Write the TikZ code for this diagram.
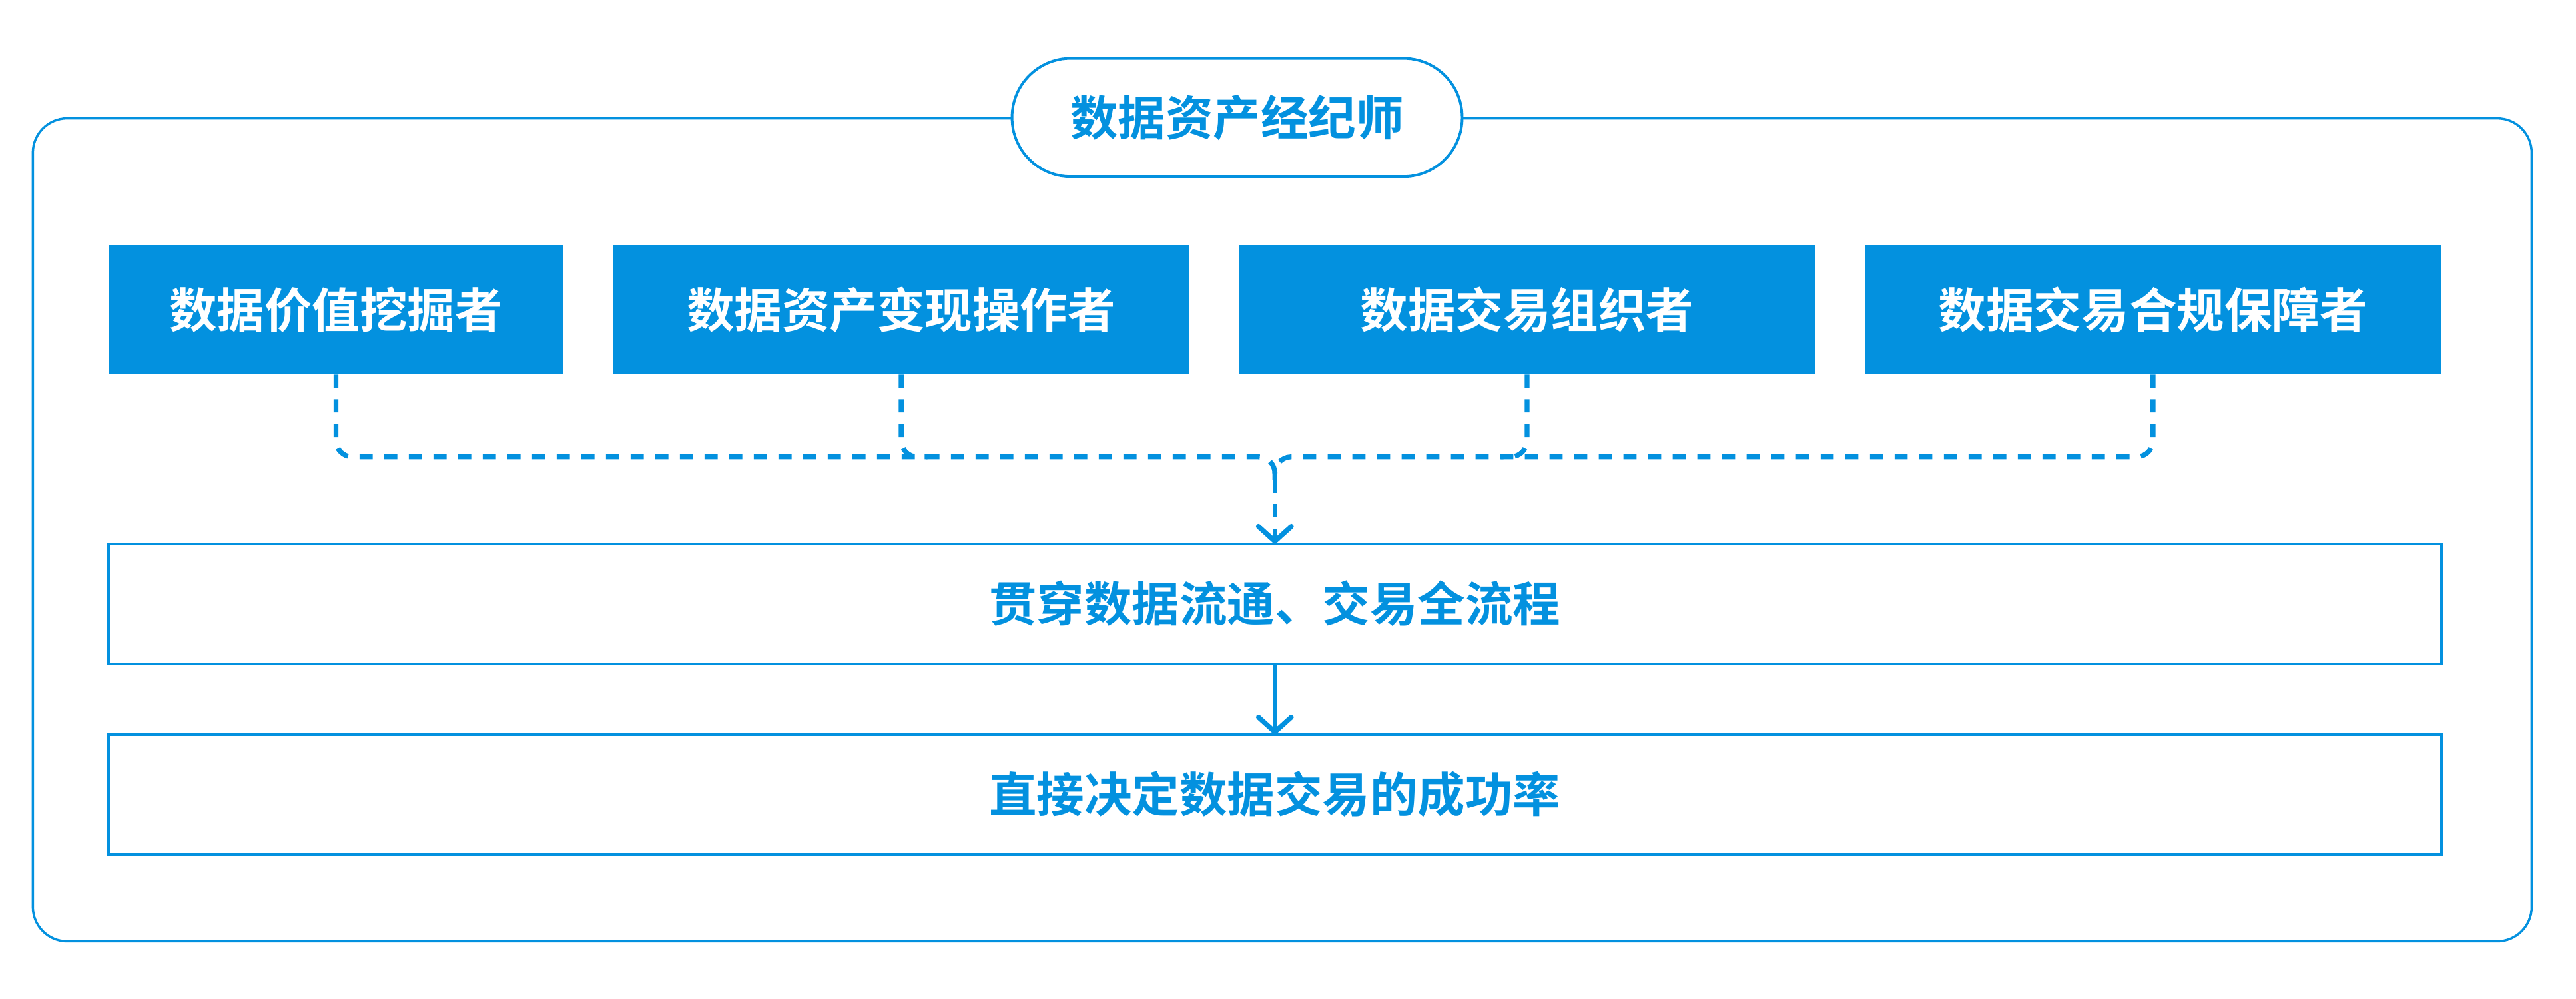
\documentclass[tikz,border=0pt]{standalone}
\usepackage{fontspec}
\newfontfamily\cjk{Noto Sans CJK SC}[BoldFont=* Bold]
\usetikzlibrary{arrows.meta}
\definecolor{brandblue}{RGB}{3,145,223}
\tikzset{
	lbl/.style={font=\cjk\bfseries\fontsize{14.5pt}{17pt}\selectfont},
	rolebox/.style={lbl,fill=brandblue,text=white,inner sep=0,outer sep=0,minimum height=39.5pt},
	stagebox/.style={lbl,draw=brandblue,line width=0.8pt,fill=white,text=brandblue,inner sep=0,outer sep=0,minimum width=710pt,minimum height=36.5pt},
	flowdash/.style={brandblue,line width=1.5pt,dash pattern=on 4pt off 3.5pt,rounded corners=5pt},
	flowline/.style={brandblue,line width=1.5pt},
	flowtip/.style={-{Straight Barb[length=4.5pt,width=10pt,round]}}
}
\begin{document}
\begin{tikzpicture}[x=0.5pt,y=-0.5pt]
	\useasboundingbox (0,0) rectangle (1568,608);
	\node[draw=brandblue,line width=0.7pt,rounded corners=10.5pt,inner sep=0,minimum width=760.5pt,minimum height=250.5pt] (frame) at (780.5,322.5) {};
	\node[lbl,draw=brandblue,line width=0.8pt,fill=white,text=brandblue,rounded corners=17.9pt,inner sep=0,minimum width=137pt,minimum height=36pt] (title) at (753,71.5) {数据资产经纪师};
	\node[rolebox,minimum width=138.5pt] (t1) at (204.5,188.5) {数据价值挖掘者};
	\node[rolebox,minimum width=175.5pt] (t2) at (548.5,188.5) {数据资产变现操作者};
	\node[rolebox,minimum width=175.5pt] (t3) at (929.5,188.5) {数据交易组织者};
	\node[rolebox,minimum width=175.5pt] (t4) at (1310.5,188.5) {数据交易合规保障者};
	\node[stagebox] (flow) at (776,367.5) {贯穿数据流通、交易全流程};
	\node[stagebox] (rate) at (776,483.5) {直接决定数据交易的成功率};
	\coordinate (bus) at (776,278);
	\coordinate (join) at (776,292);
	\draw[flowdash] (t1.south) |- (bus) -- (join);
	\draw[flowdash] (t4.south) |- (bus) -- (join);
	\draw[flowdash] (t2.south) |- ([xshift=8pt]t2.south |- bus);
	\draw[flowdash] (t3.south) |- ([xshift=-8pt]t3.south |- bus);
	\draw[flowdash,flowtip] (join) -- (flow.north);
	\draw[flowline,flowtip] (flow.south) -- (rate.north);
\end{tikzpicture}
\end{document}
